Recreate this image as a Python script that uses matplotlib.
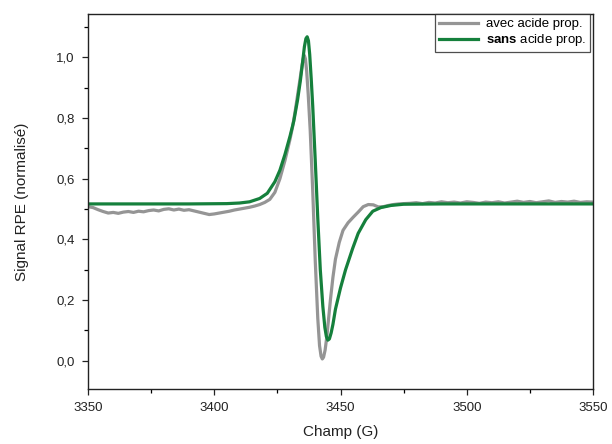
import matplotlib

matplotlib.use("Agg")
import matplotlib.pyplot as plt
from matplotlib.ticker import MultipleLocator

plt.rcParams["font.family"] = ["Liberation Sans", "DejaVu Sans"]
plt.rcParams["mathtext.fontset"] = "custom"
plt.rcParams["mathtext.bf"] = "Liberation Sans:bold"
plt.rcParams["mathtext.rm"] = "Liberation Sans"

# --- data ---
# "avec acide prop." (grey)
field_avec = [
    3350, 3352, 3354, 3356, 3358, 3360, 3362, 3364, 3366, 3368, 3370, 3372,
    3374, 3376, 3378, 3380, 3382, 3384, 3386, 3388, 3390, 3392, 3394, 3396,
    3398, 3400, 3402, 3404, 3406, 3408, 3410, 3412, 3414, 3416, 3418, 3420,
    3422, 3424, 3426, 3428, 3430, 3431, 3432, 3433, 3434, 3434.8, 3435.3, 3435.7,
    3436.1, 3436.6, 3437.2, 3438, 3439, 3440, 3441, 3441.7, 3442.3, 3442.8,
    3443.3, 3443.9, 3444.6, 3445.3, 3446, 3447, 3448, 3449.5, 3451, 3453, 3455,
    3457, 3459, 3461, 3463, 3465, 3467, 3469, 3471, 3473, 3475, 3477.5, 3480,
    3482.5, 3485, 3487.5, 3490, 3492.5, 3495, 3497.5, 3500, 3502.5, 3505, 3507.5,
    3510, 3512.5, 3515, 3517.5, 3520, 3522.5, 3525, 3527.5, 3530, 3532.5, 3535,
    3537.5, 3540, 3542.5, 3545, 3547.5, 3550,
]
signal_avec = [
    0.508, 0.505, 0.498, 0.492, 0.487, 0.489, 0.486, 0.490, 0.492, 0.489, 0.493, 0.491,
    0.495, 0.497, 0.494, 0.499, 0.501, 0.497, 0.500, 0.496, 0.498, 0.494, 0.490, 0.486,
    0.482, 0.484, 0.487, 0.490, 0.493, 0.497, 0.500, 0.503, 0.506, 0.510, 0.515, 0.522,
    0.532, 0.555, 0.600, 0.660, 0.730, 0.770, 0.820, 0.875, 0.930, 0.975, 0.998, 1.006,
    0.995, 0.955, 0.880, 0.760, 0.560, 0.330, 0.140, 0.050, 0.015, 0.006,
    0.012, 0.035, 0.080, 0.140, 0.200, 0.275, 0.335, 0.390, 0.430, 0.455, 0.473,
    0.490, 0.508, 0.515, 0.514, 0.507, 0.508, 0.512, 0.515, 0.517, 0.518, 0.519, 0.521,
    0.518, 0.522, 0.520, 0.524, 0.521, 0.523, 0.520, 0.524, 0.522, 0.519, 0.523,
    0.521, 0.524, 0.520, 0.523, 0.526, 0.522, 0.525, 0.521, 0.524, 0.527, 0.522,
    0.525, 0.523, 0.526, 0.522, 0.524, 0.523,
]

# "sans acide prop." (green)
field_sans = [
    3350, 3370, 3390, 3405, 3410, 3414, 3418, 3421, 3424, 3426, 3428, 3430,
    3431.5, 3433, 3434.1, 3435, 3435.7, 3436.3, 3436.8, 3437.3, 3437.8, 3438.4,
    3439, 3440, 3441, 3442, 3443, 3443.8, 3444.4, 3445, 3445.6, 3446.3, 3447,
    3448, 3450, 3452, 3454.8, 3457, 3460, 3462.8, 3466, 3470, 3475, 3490, 3550,
]
signal_sans = [
    0.517, 0.517, 0.517, 0.518, 0.520, 0.524, 0.535, 0.552, 0.590, 0.628, 0.680, 0.740,
    0.790, 0.860, 0.923, 0.985, 1.035, 1.062, 1.068, 1.055, 1.010, 0.930,
    0.840, 0.660, 0.470, 0.300, 0.180, 0.110, 0.080, 0.068, 0.072, 0.092, 0.120,
    0.170, 0.240, 0.300, 0.370, 0.420, 0.465, 0.493, 0.505, 0.512, 0.516, 0.517, 0.517,
]

x_ticks = [3350, 3400, 3450, 3500, 3550]
y_ticks = [0.0, 0.2, 0.4, 0.6, 0.8, 1.0]
y_tick_labels = ["0,0", "0,2", "0,4", "0,6", "0,8", "1,0"]

fig = plt.figure(figsize=(6.12, 4.44), dpi=100)
ax = fig.add_axes([88 / 612, 1 - 389 / 444, 505 / 612, 375 / 444])

ax.plot(field_avec, signal_avec, color="#959595", lw=2.3, label="avec acide prop.")
ax.plot(field_sans, signal_sans, color="#15803c", lw=2.3,
        label=r"$\mathbf{sans}$ acide prop.")

ax.set_xlim(3350, 3550)
ax.set_ylim(-0.093, 1.143)
ax.set_xticks(x_ticks)
ax.set_yticks(y_ticks)
ax.set_yticklabels(y_tick_labels)
ax.xaxis.set_minor_locator(MultipleLocator(25))
ax.yaxis.set_minor_locator(MultipleLocator(0.1))
ax.tick_params(which="major", direction="out", length=4.5, width=0.9, pad=5,
               labelsize=9.5, colors="#222222", top=False, right=False)
ax.tick_params(which="minor", direction="out", length=2.8, width=0.9,
               top=False, right=False)
for s in ax.spines.values():
    s.set_linewidth(1.0)
    s.set_color("#222222")

ax.set_xlabel("Champ (G)", fontsize=11, color="#222222", labelpad=8)
ax.set_ylabel("Signal RPE (normalisé)", fontsize=11, color="#222222", labelpad=20)

leg = ax.legend(loc="upper right", bbox_to_anchor=(0.995, 1.0), borderaxespad=0,
                fontsize=9.5, frameon=True, fancybox=False, edgecolor="#222222",
                handlelength=3.0, handletextpad=0.6, borderpad=0.3,
                labelspacing=0.15)
leg.get_frame().set_linewidth(0.9)

fig.savefig("out.png", dpi=100)
